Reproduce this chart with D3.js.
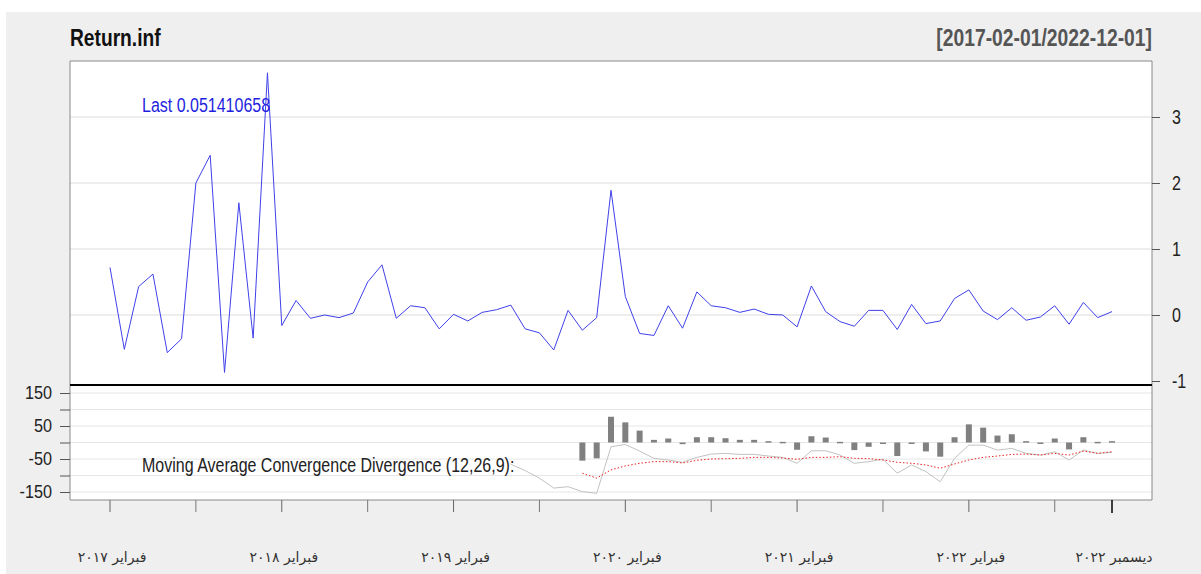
<!DOCTYPE html>
<html>
<head>
<meta charset="utf-8">
<script src="https://cdn.jsdelivr.net/npm/d3@7"></script>
<style>
  body { margin: 0; background: #fff; }
  text { font-family: "Liberation Sans", Arial, sans-serif; }
  .ar { font-family: "DejaVu Sans", "Noto Sans", sans-serif; }
</style>
</head>
<body>
<svg id="chart" width="1201" height="574"></svg>
<script>
// monthly Return.inf, Feb 2017 .. Dec 2022
var returnInf = [0.72, -0.52, 0.43, 0.62, -0.57, -0.36, 2.0, 2.42, -0.87, 1.70, -0.35, 3.67,
  -0.16, 0.22, -0.05, 0.0, -0.04, 0.03, 0.5, 0.76, -0.05, 0.14, 0.11, -0.21,
  0.01, -0.09, 0.04, 0.08, 0.15, -0.21, -0.27, -0.53, 0.07, -0.23, -0.04, 1.89,
  0.28, -0.28, -0.31, 0.14, -0.2, 0.35, 0.14, 0.11, 0.04, 0.09, 0.01, 0.0,
  -0.18, 0.44, 0.05, -0.1, -0.17, 0.07, 0.07, -0.22, 0.16, -0.13, -0.09, 0.25,
  0.38, 0.06, -0.07, 0.11, -0.08, -0.03, 0.14, -0.14, 0.19, -0.04, 0.051410658]

// MACD(12,26,9) — null where not yet defined
var macdLine = [null, null, null, null, null, null, null, null, null, null, null, null,
  null, null, null, null, null, null, null, null, null, null, null, null,
  null, null, null, null, -66, -85, -108, -138, -134, -149, -154, -13,
  -6, -26, -48, -53, -60, -45, -35, -33, -36, -36, -41, -45,
  -63, -25, -25, -38, -63, -58, -51, -93, -68, -88, -119, -48,
  -8, -8, -23, -18, -33, -38, -28, -53, -23, -33, -30]

var signalLine = [null, null, null, null, null, null, null, null, null, null, null, null,
  null, null, null, null, null, null, null, null, null, null, null, null,
  null, null, null, null, null, null, null, null, null, -93, -108, -83,
  -71, -63, -58, -58, -62, -54, -50, -49, -48, -45, -45, -47,
  -51, -45, -45, -43, -48, -49, -53, -60, -63, -68, -78, -65,
  -53, -45, -41, -36, -35, -38, -33, -38, -26, -33, -28]

var histogram = [null, null, null, null, null, null, null, null, null, null, null, null,
  null, null, null, null, null, null, null, null, null, null, null, null,
  null, null, null, null, null, null, null, null, null, -55, -48, 78,
  61, 36, 8, 12, -5, 16, 16, 13, 8, 8, 4, 2,
  -22, 19, 15, 2, -23, -13, -4, -41, -4, -27, -43, 16,
  55, 45, 21, 25, 4, -3, 12, -21, 16, 2, 4]

var majorTicks = [0, 12, 24, 36, 48, 60, 70]
  , majorLabels = ['فبراير ٢٠١٧', 'فبراير ٢٠١٨', 'فبراير ٢٠١٩', 'فبراير ٢٠٢٠',
      'فبراير ٢٠٢١', 'فبراير ٢٠٢٢', 'ديسمبر ٢٠٢٢']
  , minorTicks = [6, 18, 30, 42, 54, 66]
  , mainTicks = [-1, 0, 1, 2, 3]
  , macdTicks = [-150, -100, -50, 0, 50, 100, 150]
  , macdLabels = [150, 50, -50, -150]

var svg = d3.select('#chart')
  , left = 70, right = 1152
  , mainTop = 61, split = 385, bottom = 500
  , squeeze = 0.8

// squeeze a text horizontally around its own anchor x
var narrow = function(sel, k) {
  sel.each(function() {
    var t = d3.select(this), x0 = +t.attr('x') || 0
    t.attr('transform', 'translate(' + x0 + ',0) scale(' + k + ',1) translate(' + (-x0) + ',0)')
  })
}

svg.append('rect').attr('x', 6).attr('y', 12).attr('width', 1195).attr('height', 562).attr('fill', '#efefef')
svg.append('rect').attr('x', left).attr('y', mainTop).attr('width', right - left).attr('height', bottom - mainTop).attr('fill', '#fff')

var x = d3.scaleLinear().domain([0, returnInf.length - 1]).range([110, 1112])
var y = d3.scaleLinear().domain([-1, 3]).range([381, 117])
var y2 = d3.scaleLinear().domain([-150, 150]).range([492, 393])

// grid
svg.selectAll('line.grid').data(mainTicks.filter(function(d) { return d > -1 }))
  .enter().append('line').attr('class', 'grid')
  .attr('x1', left).attr('x2', right)
  .attr('y1', function(d) { return y(d) }).attr('y2', function(d) { return y(d) })
  .attr('stroke', '#dcdcdc')
svg.selectAll('line.grid2').data(macdTicks)
  .enter().append('line').attr('class', 'grid2')
  .attr('x1', left).attr('x2', right)
  .attr('y1', function(d) { return y2(d) }).attr('y2', function(d) { return y2(d) })
  .attr('stroke', '#e6e6e6')

// frame
svg.append('path').attr('d', 'M' + left + ',' + bottom + 'V' + mainTop + 'H' + right + 'V' + bottom + 'H' + left)
  .attr('fill', 'none').attr('stroke', '#8a8a8a')
svg.append('line').attr('x1', left).attr('x2', right).attr('y1', split).attr('y2', split)
  .attr('stroke', '#000').attr('stroke-width', 2)

// main series
var line = d3.line().x(function(d, i) { return x(i) }).y(function(d) { return y(d) })
svg.append('path').datum(returnInf).attr('d', line)
  .attr('fill', 'none').attr('stroke', '#4040ea').attr('stroke-width', 1)

// right axis
var yAxis = svg.append('g').attr('transform', 'translate(' + right + ',0)')
  .call(d3.axisRight(y).tickValues(mainTicks).tickSize(8).tickPadding(12)
    .tickFormat(function(d) { return String(d) }))
yAxis.select('.domain').remove()
yAxis.selectAll('line').attr('stroke', '#555')
yAxis.selectAll('text').attr('font-size', 20).attr('fill', '#222')
  .attr('font-family', '"Liberation Sans", Arial, sans-serif')
  .call(narrow, squeeze)

// MACD histogram
var barData = histogram.map(function(v, i) { return { i: i, v: v } }).filter(function(d) { return d.v !== null })
svg.selectAll('rect.hist').data(barData).enter().append('rect').attr('class', 'hist')
  .attr('x', function(d) { return x(d.i) - 3 })
  .attr('width', 6)
  .attr('y', function(d) { return Math.min(y2(d.v), y2(0)) })
  .attr('height', function(d) { return Math.max(1.5, Math.abs(y2(d.v) - y2(0))) })
  .attr('fill', '#808080')

var line2 = d3.line().defined(function(d) { return d !== null })
  .x(function(d, i) { return x(i) }).y(function(d) { return y2(d) })
svg.append('path').datum(macdLine).attr('d', line2)
  .attr('fill', 'none').attr('stroke', '#c0c4c0').attr('stroke-width', 1)
svg.append('path').datum(signalLine).attr('d', line2)
  .attr('fill', 'none').attr('stroke', '#ee2222').attr('stroke-width', 1).attr('stroke-dasharray', '1.5,2')

// left MACD axis
var y2Axis = svg.append('g').attr('transform', 'translate(' + left + ',0)')
  .call(d3.axisLeft(y2).tickValues(macdTicks).tickSize(10).tickPadding(8)
    .tickFormat(function(d) { return macdLabels.indexOf(d) >= 0 ? String(d) : '' }))
y2Axis.select('.domain').remove()
y2Axis.selectAll('line').attr('stroke', '#555')
y2Axis.selectAll('text').attr('font-size', 18).attr('fill', '#222')
  .attr('font-family', '"Liberation Sans", Arial, sans-serif')
  .call(narrow, 0.9)

// x axis ticks
var xAxis = svg.append('g').attr('transform', 'translate(0,' + bottom + ')')
xAxis.selectAll('line.minor').data(minorTicks).enter().append('line')
  .attr('x1', function(d) { return x(d) }).attr('x2', function(d) { return x(d) })
  .attr('y1', 0).attr('y2', 12).attr('stroke', '#777')
xAxis.selectAll('line.major').data(majorTicks).enter().append('line')
  .attr('x1', function(d) { return x(d) }).attr('x2', function(d) { return x(d) })
  .attr('y1', 0).attr('y2', function(d, i) { return i === majorTicks.length - 1 ? 13 : 12 })
  .attr('stroke', function(d, i) { return i === majorTicks.length - 1 ? '#000' : '#666' })
  .attr('stroke-width', function(d, i) { return i === majorTicks.length - 1 ? 1.5 : 1 })
xAxis.selectAll('text').data(majorTicks).enter().append('text').attr('class', 'ar')
  .attr('x', function(d) { return x(d) + 2 }).attr('y', 62)
  .attr('text-anchor', 'middle').attr('font-size', 14).attr('fill', '#333')
  .text(function(d, i) { return majorLabels[i] })

// titles
svg.append('text').attr('x', 70).attr('y', 46).attr('font-size', 24).attr('font-weight', 'bold')
  .attr('fill', '#111').text('Return.inf').call(narrow, squeeze)
svg.append('text').attr('x', right).attr('y', 46).attr('text-anchor', 'end').attr('font-size', 23)
  .attr('font-weight', 'bold').attr('fill', '#555').text('[2017-02-01/2022-12-01]').call(narrow, 0.84)
svg.append('text').attr('x', 142).attr('y', 112).attr('font-size', 20).attr('fill', '#1f1fe0')
  .text('Last ' + returnInf[returnInf.length - 1]).call(narrow, squeeze)
svg.append('text').attr('x', 142).attr('y', 472).attr('font-size', 20).attr('fill', '#222')
  .text('Moving Average Convergence Divergence (12,26,9):').call(narrow, squeeze)
</script>
</body>
</html>
